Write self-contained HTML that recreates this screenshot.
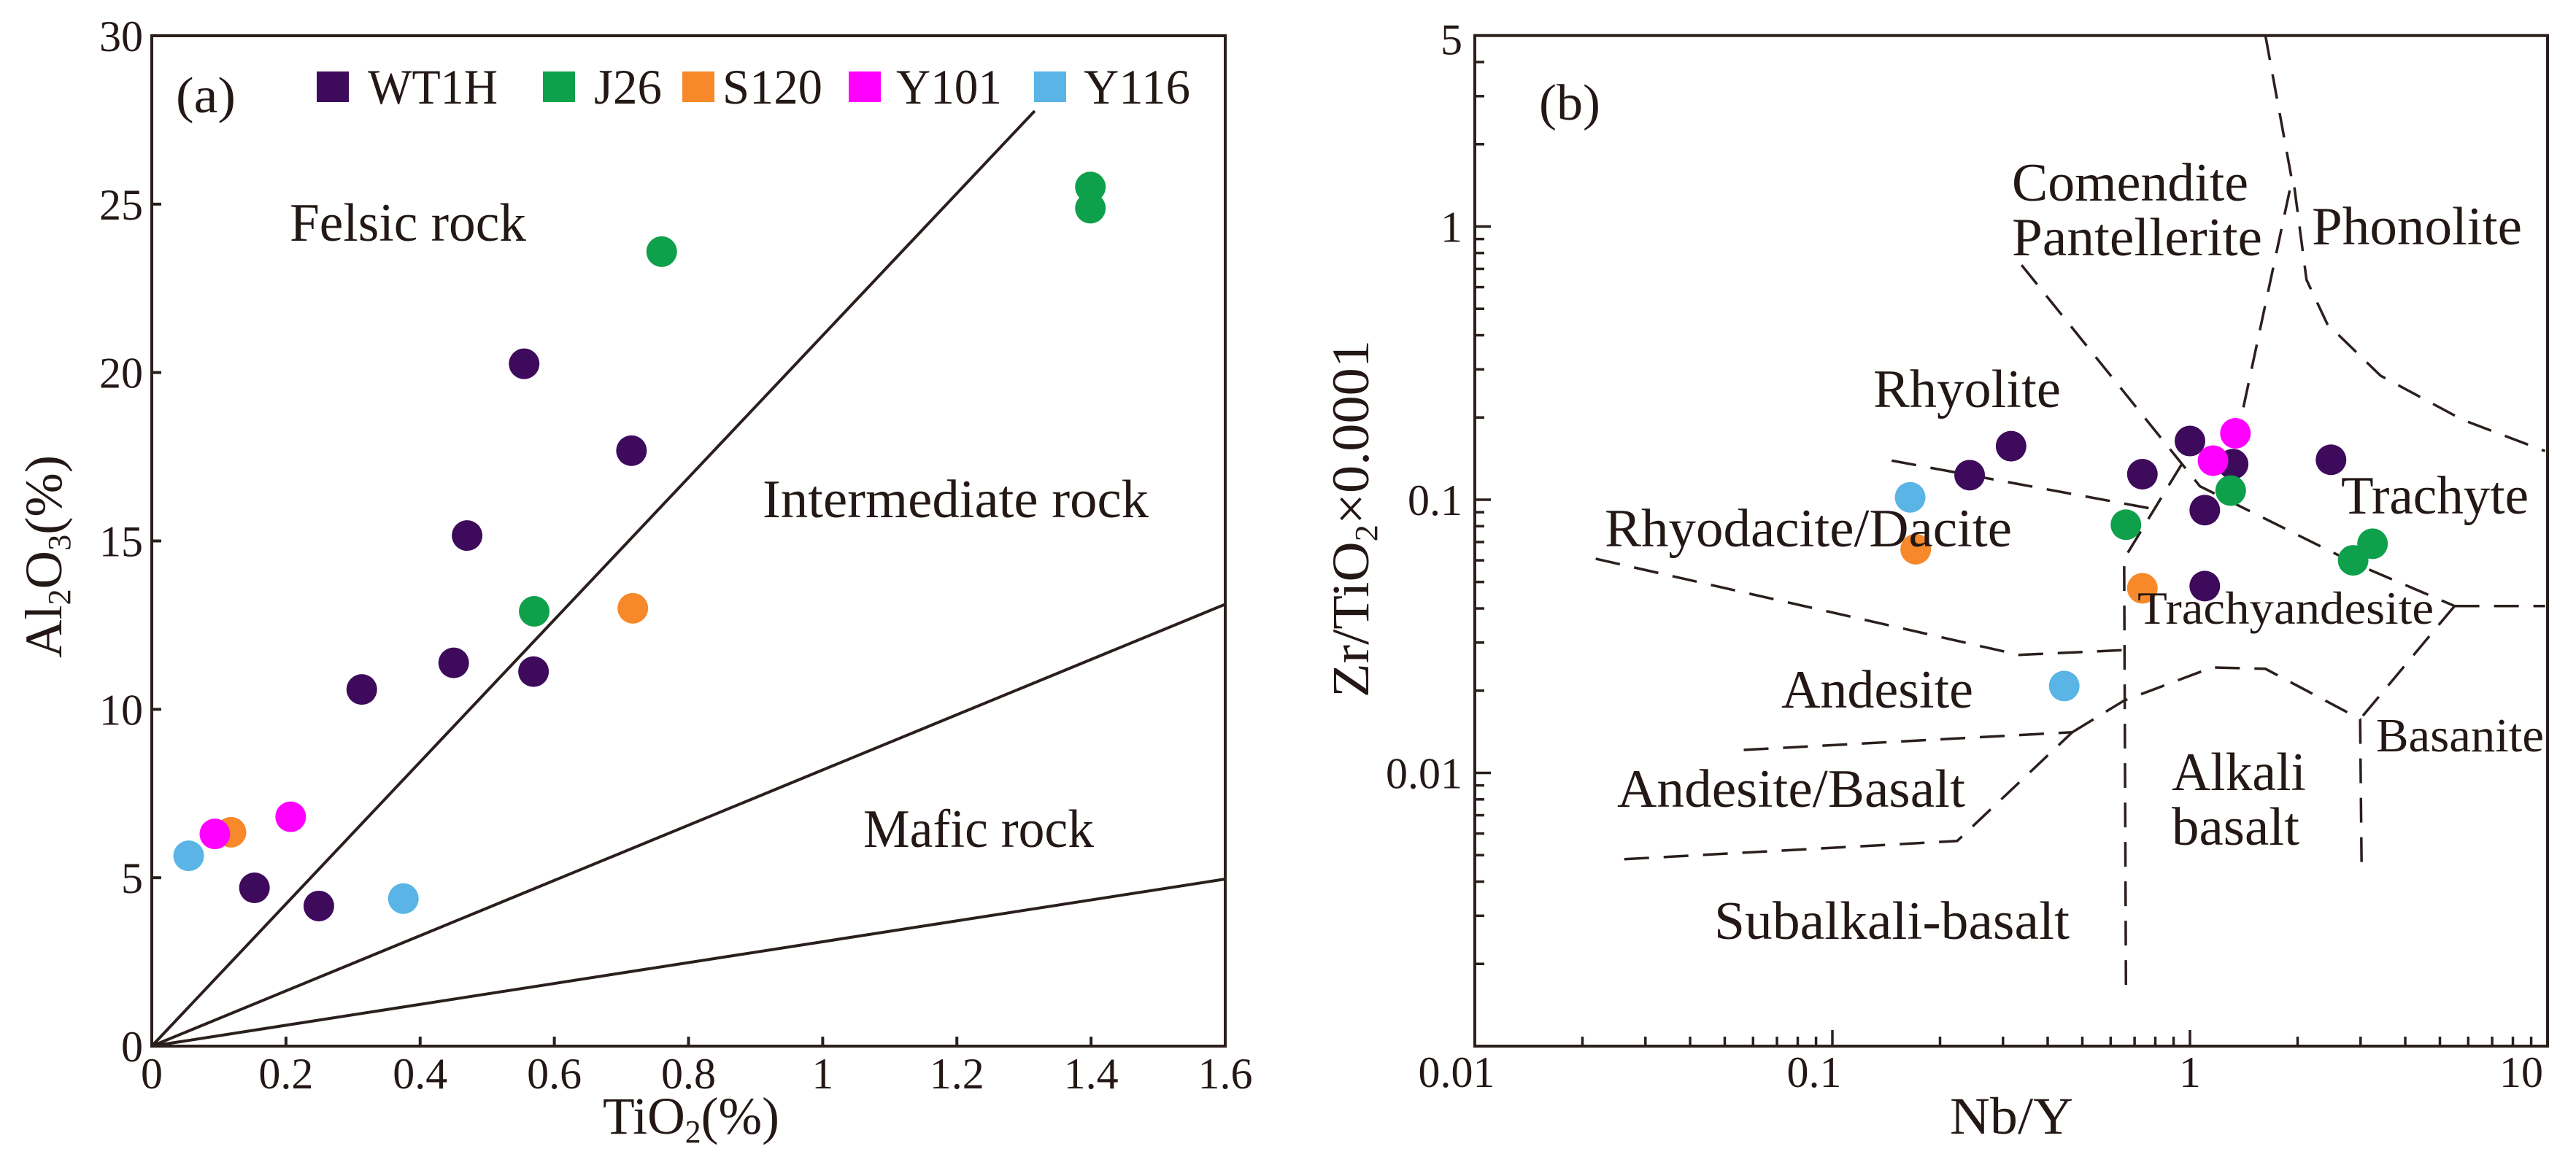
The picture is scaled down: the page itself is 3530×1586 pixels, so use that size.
<!DOCTYPE html>
<html><head><meta charset="utf-8"><style>
html,body{margin:0;padding:0;background:#fff;}
svg{display:block;font-family:"Liberation Serif",serif;}
text{fill:#231815;}
</style></head><body>
<svg id="chart" width="3530" height="1586" viewBox="0 0 3530 1586" xmlns="http://www.w3.org/2000/svg"></svg>
<script>
// ---------- Panel (a) data ----------
const aSeries = ["WT1H","J26","S120","Y101","Y116"];
const aColors = ["#3d0a5c","#0ea04a","#f7892a","#ff00ff","#5ab4e6"];
const aWT1H_x = [0.555,0.715,0.470,0.450,0.569,0.313,0.153,0.249];
const aWT1H_y = [20.26,17.68,15.16,11.38,11.12,10.59,4.70,4.16];
const aJ26_x = [1.399,1.399,0.760,0.570];
const aJ26_y = [25.51,24.88,23.59,12.91];
const aS120_x = [0.717,0.118];
const aS120_y = [13.0,6.35];
const aY101_x = [0.094,0.207];
const aY101_y = [6.30,6.81];
const aY116_x = [0.055,0.375];
const aY116_y = [5.65,4.38];
const aXTicks = [0,0.2,0.4,0.6,0.8,1,1.2,1.4,1.6];
const aXTickLabels = ["0","0.2","0.4","0.6","0.8","1","1.2","1.4","1.6"];
const aYTicks = [0,5,10,15,20,25,30];
const aYTickLabels = ["0","5","10","15","20","25","30"];
const aSlopes = [21.1,8.2,3.1];
const aSlopeEndX = [1.316,1.6,1.6];

// ---------- Panel (b) data ----------
const bWT1H_x = [0.242,0.316,0.736,1.0,1.32,1.10,1.10,2.48];
const bWT1H_y = [0.123,0.157,0.124,0.164,0.135,0.0916,0.0483,0.140];
const bJ26_x = [1.30,0.662,3.24,2.86];
const bJ26_y = [0.108,0.081,0.069,0.060];
const bS120_x = [0.171,0.736];
const bS120_y = [0.0659,0.0474];
const bY101_x = [1.34,1.16];
const bY101_y = [0.175,0.139];
const bY116_x = [0.165,0.445];
const bY116_y = [0.102,0.0208];
const bXTicks = [0.01,0.1,1,10];
const bXTickLabels = ["0.01","0.1","1","10"];
const bYTicks = [0.01,0.1,1,5];
const bYTickLabels = ["0.01","0.1","1","5"];
// boundary polylines as [log10(Nb/Y), log10(Zr/TiO2*0.0001)]
const bBoundaries = [
 [[-0.471,-0.141],[0.028,-0.951],[0.464,-1.235],[0.740,-1.389]],
 [[0.740,-1.389],[0.993,-1.389]],
 [[0.740,-1.389],[0.476,-1.803]],
 [[-0.834,-0.857],[-0.110,-1.032]],
 [[0.211,0.699],[0.285,0.170],[0.120,-0.843],[0.115,-1.005]],
 [[-0.023,-0.870],[-0.184,-1.216],[-0.179,-2.789]],
 [[-1.662,-1.216],[-0.478,-1.568],[-0.191,-1.551]],
 [[-1.248,-1.916],[-0.329,-1.851]],
 [[-0.329,-1.851],[-0.184,-1.735],[0.062,-1.614],[0.211,-1.619],[0.476,-1.803],[0.480,-2.343]],
 [[-1.582,-2.316],[-0.651,-2.249],[-0.329,-1.851]],
 [[0.292,0.143],[0.326,-0.195],[0.384,-0.357],[0.533,-0.546],[0.763,-0.708],[0.993,-0.822]]
];

const NS="http://www.w3.org/2000/svg";
const svg=document.getElementById('chart');
const INK="#2b1f1d";
function mk(tag,attrs,parent){const e=document.createElementNS(NS,tag);for(const k in attrs)e.setAttribute(k,attrs[k]);(parent||svg).appendChild(e);return e;}
function txt(s,x,y,size,anchor,len,parent){const t=mk('text',{x:x,y:y,'font-size':size,'text-anchor':anchor||'start'},parent);if(len){t.setAttribute('textLength',len);t.setAttribute('lengthAdjust','spacingAndGlyphs');}t.textContent=s;return t;}

// ===== Panel A =====
const gA=mk('g',{});


const AX0=208,AX1=1679,AY0=1434,AY1=49;
const ax=v=>AX0+(v/1.6)*(AX1-AX0);
const ay=v=>AY0-(v/30)*(AY0-AY1);
aSlopes.forEach((s,i)=>{
  const l=mk('line',{x1:ax(0),y1:ay(0),x2:ax(aSlopeEndX[i]),y2:ay(s*aSlopeEndX[i]),stroke:INK,'stroke-width':4},gA);
  
  
});
aXTicks.forEach((v,i)=>{
  mk('line',{x1:ax(v),y1:AY0,x2:ax(v),y2:AY0-13,stroke:INK,'stroke-width':4},gA);
  const t=txt(aXTickLabels[i],ax(v),1492,60,'middle',null,gA);
  
  
});
aYTicks.forEach((v,i)=>{
  mk('line',{x1:AX0,y1:ay(v),x2:AX0+13,y2:ay(v),stroke:INK,'stroke-width':4},gA);
  const t=txt(aYTickLabels[i],196,ay(v)+21,60,'end',null,gA);
  
  
});
const frA=mk('rect',{x:AX0,y:AY1,width:AX1-AX0,height:AY0-AY1,fill:'none',stroke:INK,'stroke-width':4},gA);


const aXs=[aWT1H_x,aJ26_x,aS120_x,aY101_x,aY116_x];
const aYs=[aWT1H_y,aJ26_y,aS120_y,aY101_y,aY116_y];
aXs.forEach((xs,si)=>{xs.forEach((x,j)=>{
  const c=mk('circle',{cx:ax(x),cy:ay(aYs[si][j]),r:21,fill:aColors[si]},gA);
  
  
});});
let t;
t=txt('(a)',282,154,70,'middle',82,gA);
const legSqX=[434,744,935,1163,1417], legTxX=[504,814,990,1228,1485], legTxW=[178,93,137,145,146];
aSeries.forEach((s,i)=>{
  const r=mk('rect',{x:legSqX[i],y:98,width:44,height:42,fill:aColors[i]},gA);
  
  
  const lt=txt(s,legTxX[i],142,68,'start',legTxW[i],gA);
  
  
});
t=txt('Felsic rock',397,330,74,'start',324,gA);
t=txt('Intermediate rock',1045,709,74,'start',529,gA);
t=txt('Mafic rock',1183,1161,74,'start',316,gA);
t=mk('text',{x:826,y:1554,'font-size':72,textLength:242,lengthAdjust:'spacingAndGlyphs'},gA);
t.innerHTML='TiO<tspan font-size="44" dy="12">2</tspan><tspan dy="-12">(%)</tspan>';

t=mk('text',{x:0,y:0,'font-size':72,transform:'translate(84,902) rotate(-90)',textLength:278,lengthAdjust:'spacingAndGlyphs'},gA);
t.innerHTML='Al<tspan font-size="44" dy="12">2</tspan><tspan dy="-12">O</tspan><tspan font-size="44" dy="12">3</tspan><tspan dy="-12">(%)</tspan>';


// ===== Panel B =====
const gB=mk('g',{});


const BX0=2021,BDX=490,BY0=1434,BDY=374.5;
const bxl=l=>BX0+(l+2)*BDX;
const byl=l=>BY0-(l+3)*BDY;
const bx=v=>bxl(Math.log10(v));
const by=v=>byl(Math.log10(v));
const BX1=bx(10), BY1=by(5);
bBoundaries.forEach((poly,i)=>{
  const p=mk('polyline',{points:poly.map(q=>bxl(q[0]).toFixed(1)+','+byl(q[1]).toFixed(1)).join(' '),fill:'none',stroke:INK,'stroke-width':3.5,'stroke-dasharray':'34 20'},gB);
  
  
});
for(let d=-2;d<1;d++){for(let m=1;m<=9;m++){const v=m*Math.pow(10,d);const x=bx(v);if(x>BX1+1)continue;
  mk('line',{x1:x,y1:BY0,x2:x,y2:BY0-(m===1?22:13),stroke:INK,'stroke-width':3.5},gB);}}
for(let d=-3;d<1;d++){for(let m=1;m<=9;m++){const v=m*Math.pow(10,d);const y=by(v);if(y<BY1-1)continue;
  mk('line',{x1:BX0,y1:y,x2:BX0+(m===1?22:13),y2:y,stroke:INK,'stroke-width':3.5},gB);}}
bXTicks.forEach((v,i)=>{
  const tt=txt(bXTickLabels[i],i===0?1996:(i===3?3455:bx(v)-(i===1?25:0)),1490,60,'middle',null,gB);
  
  
});
bYTicks.forEach((v,i)=>{
  const tt=txt(bYTickLabels[i],2004,by(v)+(i===3?26:21),60,'end',null,gB);
  
  
});
const frB=mk('rect',{x:BX0,y:BY1,width:BX1-BX0,height:BY0-BY1,fill:'none',stroke:INK,'stroke-width':4},gB);


const bXs=[bWT1H_x,bJ26_x,bS120_x,bY101_x,bY116_x];
const bYs=[bWT1H_y,bJ26_y,bS120_y,bY101_y,bY116_y];
bXs.forEach((xs,si)=>{xs.forEach((x,j)=>{
  const c=mk('circle',{cx:bx(x),cy:by(bYs[si][j]),r:21,fill:aColors[si]},gB);
  
  
});});
const fl=[
 ['(b)',2109,164,70,84,'panel-label-b'],
 ['Comendite',2757,275,74,324,'comendite-label'],
 ['Pantellerite',2757,350,74,343,'pantellerite-label'],
 ['Phonolite',3168,335,74,288,'phonolite-label'],
 ['Rhyolite',2567,558,74,257,'rhyolite-label'],
 ['Trachyte',3208,704,74,257,'trachyte-label'],
 ['Rhyodacite/Dacite',2199,749,74,558,'rhyodacite-dacite-label'],
 ['Trachyandesite',2929,855,64,406,'trachyandesite-label'],
 ['Andesite',2441,970,74,263,'andesite-label'],
 ['Basanite',3256,1030,66,230,'basanite-label'],
 ['Andesite/Basalt',2216,1106,74,477,'andesite-basalt-label'],
 ['Alkali',2976,1083,74,184,'alkali-label'],
 ['basalt',2976,1158,74,175,'basalt-label'],
 ['Subalkali-basalt',2349,1287,74,487,'subalkali-basalt-label']
];
fl.forEach(f=>{const tt=txt(f[0],f[1],f[2],f[3],'start',f[4],gB);
  
  });
t=txt('Nb/Y',2672,1554,72,'start',169,gB);
t=mk('text',{x:0,y:0,'font-size':72,transform:'translate(1875,956) rotate(-90)',textLength:490,lengthAdjust:'spacingAndGlyphs'},gB);
t.innerHTML='Zr/TiO<tspan font-size="44" dy="12">2</tspan><tspan dy="-12">×0.0001</tspan>';

</script>
</body></html>
